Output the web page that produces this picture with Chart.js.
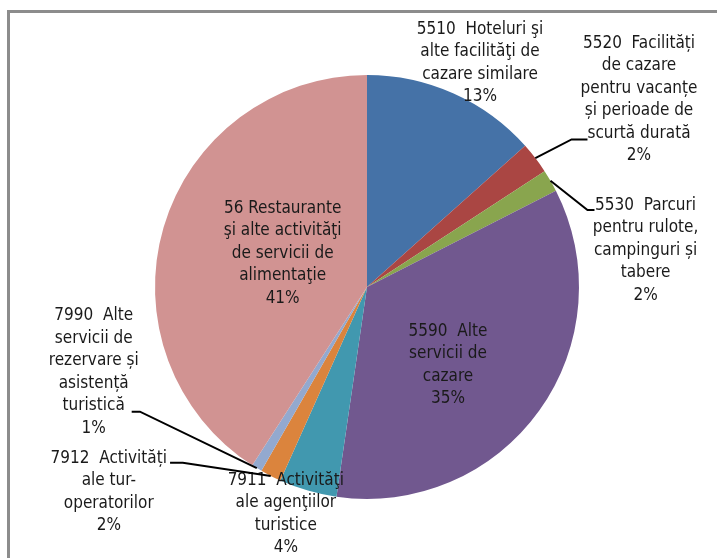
<!DOCTYPE html>
<html>
<head>
<meta charset="utf-8">
<script src="https://cdn.jsdelivr.net/npm/chart.js@4"></script>
<style>
  body { margin: 0; background: #fff; }
  #wrap { width: 717px; height: 558px; position: relative; }
</style>
</head>
<body>
<div id="wrap"><canvas id="myChart" width="717" height="558"></canvas></div>
<script>
// data
const categories = [
  ['5510  Hoteluri şi', 'alte facilităţi de', 'cazare similare'],
  ['5520  Facilități', 'de cazare', 'pentru vacanțe', 'și perioade de', 'scurtă durată'],
  ['5530  Parcuri', 'pentru rulote,', 'campinguri și', 'tabere'],
  ['5590  Alte', 'servicii de', 'cazare'],
  ['7911  Activităţi', 'ale agenţiilor', 'turistice'],
  ['7912  Activități', 'ale tur-', 'operatorilor'],
  ['7990  Alte', 'servicii de', 'rezervare și', 'asistență', 'turistică'],
  ['56 Restaurante', 'şi alte activităţi', 'de servicii de', 'alimentaţie']
];
const shares = [13.4, 2.4, 1.7, 34.8, 4.4, 1.6, 0.8, 40.9];

const sliceColors = ['#4572A7', '#AA4643', '#89A54E', '#71588F', '#4198AF', '#DB843D', '#93A9CF', '#D19392'];

// label centres, in units of the radius from the pie centre
const labelSpots = [[0.533, -1.057], [1.283, -0.884], [1.314, -0.172], [0.382, 0.368],
                    [-0.383, 1.071], [-1.218, 0.967], [-1.289, 0.401], [-0.398, -0.158]];
// leader lines: [elbow, end] in radius units, null when none
const leaders = [null, [[0.965, -0.696], [1.04, -0.696]], [[1.04, -0.363], [1.073, -0.363]], null,
                 null, [[-0.869, 0.829], [-0.929, 0.829]], [[-1.071, 0.588], [-1.110, 0.588]], null];

const FONT = '17px "Liberation Sans Narrow", "DejaVu Sans Condensed", sans-serif';
const LINE_H = 22.5;

const pieLabels = {
  id: 'pieLabels',
  beforeDraw(chart) {
    const c = chart.ctx;
    c.save();
    c.fillStyle = '#8c8c8c';
    c.fillRect(7, 10, 710, 3);
    c.fillRect(7, 10, 3, 548);
    c.restore();
  },
  afterDatasetsDraw(chart) {
    const c = chart.ctx;
    const meta = chart.getDatasetMeta(0);
    const total = shares.reduce((a, b) => a + b, 0);
    c.save();
    meta.data.forEach((arc, i) => {
      const p = arc.getProps(['x', 'y', 'startAngle', 'endAngle', 'outerRadius'], true);
      const r = p.outerRadius;
      const mid = (p.startAngle + p.endAngle) / 2;
      if (leaders[i]) {
        c.strokeStyle = '#000';
        c.lineWidth = 2;
        c.beginPath();
        c.moveTo(p.x + Math.cos(mid) * r, p.y + Math.sin(mid) * r);
        c.lineTo(p.x + leaders[i][0][0] * r, p.y + leaders[i][0][1] * r);
        c.lineTo(p.x + leaders[i][1][0] * r, p.y + leaders[i][1][1] * r);
        c.stroke();
      }
      const lines = categories[i].concat([Math.round(shares[i] / total * 100) + '%']);
      const cx = p.x + labelSpots[i][0] * r;
      const cy = p.y + labelSpots[i][1] * r;
      c.font = FONT;
      c.fillStyle = '#1a1a1a';
      c.textAlign = 'center';
      c.textBaseline = 'middle';
      const top = cy - (lines.length - 1) * LINE_H / 2;
      lines.forEach((t, k) => c.fillText(t, cx, top + k * LINE_H));
    });
    c.restore();
  }
};

const ctx = document.getElementById('myChart');
new Chart(ctx, {
  type: 'pie',
  data: {
    labels: categories,
    datasets: [{
      data: shares,
      backgroundColor: sliceColors,
      borderWidth: 0
    }]
  },
  options: {
    responsive: false,
    animation: false,
    devicePixelRatio: 1,
    layout: { padding: { left: 155, right: 138, top: 75, bottom: 59 } },
    plugins: {
      legend: { display: false },
      tooltip: { enabled: false }
    }
  },
  plugins: [pieLabels]
});
</script>
</body>
</html>
